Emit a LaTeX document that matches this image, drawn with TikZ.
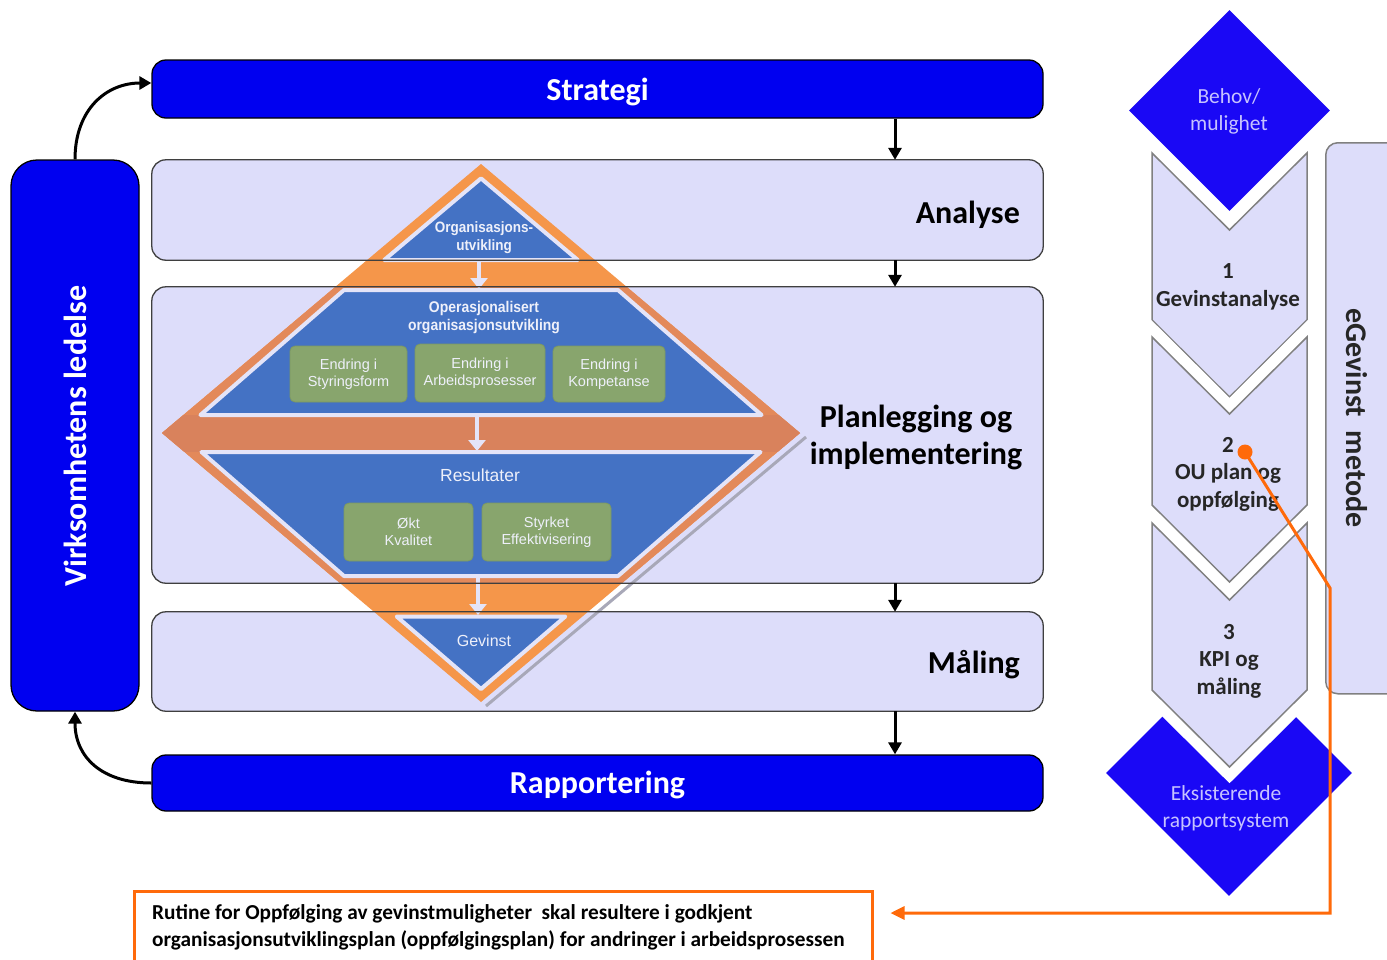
\documentclass[tikz,border=0pt]{standalone}
\usepackage{fontspec}
\setmainfont{Carlito}
\newfontfamily\arialf{Liberation Sans}
\newfontfamily\narrowf[FakeStretch=0.9]{Liberation Sans}
\usetikzlibrary{arrows.meta,shapes.geometric,calc}
\definecolor{bandfill}{HTML}{DDDDFA}
\definecolor{bandline}{HTML}{3F3F3F}
\definecolor{barblue}{HTML}{0000F0}
\definecolor{diablue}{HTML}{1A08F5}
\definecolor{pyrblue}{HTML}{4472C4}
\definecolor{orgA}{HTML}{F5964A}
\definecolor{orgB}{HTML}{E3895A}
\definecolor{orgC}{HTML}{D9825C}
\definecolor{lav}{HTML}{E4E4F8}
\definecolor{grn}{HTML}{88A56D}
\definecolor{grnline}{HTML}{7C9862}
\definecolor{hiorange}{HTML}{FF6A0A}
\definecolor{chevline}{HTML}{808080}
\definecolor{dialabel}{HTML}{C6C2FF}
\definecolor{pyrtext}{HTML}{EEF0FA}
\definecolor{darktext}{HTML}{262626}
\definecolor{shadowc}{HTML}{A8A8B8}
\tikzset{
  bandbg/.style={fill=bandfill, rounded corners=14pt, minimum width=891pt, inner sep=0pt},
  bandedge/.style={draw=bandline, line width=1.3pt, rounded corners=14pt},
  bluebar/.style={fill=barblue, draw=black, line width=1.3pt, rounded corners=14pt, minimum width=891pt, inner sep=0pt},
  bartext/.style={text=white, inner sep=0pt, font=\fontsize{32}{38}\selectfont\bfseries},
  biglabel/.style={font=\fontsize{32}{37}\selectfont\bfseries, text=black, inner sep=0pt},
  blackarrow/.style={line width=3pt, -{Triangle[length=12pt,width=13pt]}},
  pyr/.style={fill=pyrblue, draw=lav, line width=4pt, line join=round},
  whitearrow/.style={draw=lav, line width=4pt, -{Triangle[length=11pt,width=17pt]}},
  greenbox/.style={fill=grn, draw=grnline, line width=0.8pt, rounded corners=5pt, inner sep=0pt, text=pyrtext, align=center, font=\arialf\fontsize{14.5}{16.5}\selectfont},
  pyrlabel/.style={text=pyrtext, align=center, inner sep=0pt},
  chev/.style={fill=bandfill, draw=chevline, line width=1.5pt, preaction={draw=white, line width=23pt}},
  chevtext/.style={text=darktext, align=center, inner sep=0pt, font=\fontsize{23}{27.5}\selectfont\bfseries},
  bluediamond/.style={diamond, aspect=1, fill=diablue, inner sep=0pt},
  dialabelstyle/.style={text=dialabel, align=center, inner sep=0pt, font=\fontsize{21.5}{27}\selectfont},
  orangeline/.style={draw=hiorange, line width=3pt, -{Triangle[length=14pt,width=13pt]}},
}
\begin{document}
\begin{tikzpicture}[x=1pt,y=-1pt]
\useasboundingbox (0,0) rectangle (1387,959);
\clip (0,0) rectangle (1387,959);
\fill[white] (0,0) rectangle (1387,959);

% ---- bands (fill only) ----
\node[bandbg, minimum height=100pt] (analyse) at (597.5,210) {};
\node[bandbg, minimum height=296pt] (plan) at (597.5,435) {};
\node[bandbg, minimum height=99pt] (maaling) at (597.5,661.5) {};

% ---- blue bars ----
\node[bluebar, minimum height=58pt] (strategi) at (597.5,89) {};
\node[bartext, anchor=base] (strategitxt) at (597.5,100) {Strategi};
\node[bluebar, minimum height=56pt] (rapport) at (597.5,783) {};
\node[bartext, anchor=base] (rapporttxt) at (597.5,793) {Rapportering};
\node[fill=barblue, draw=black, line width=1.3pt, rounded corners=26pt, minimum width=128pt, minimum height=551pt, inner sep=0pt] (ledelse) at (75,435.5) {};
\node[rotate=90, text=white, font=\fontsize{32}{36}\selectfont\bfseries, inner sep=0pt] (ledelsetxt) at (75,436) {Virksomhetens ledelse};

% ---- pyramid / diamond ----
\draw[shadowc, line width=3pt] (806,437) -- (486,706);
\fill[orgA] (481,164) -- (800,433) -- (481,702) -- (162,433) -- cycle;
\begin{scope}
  \clip (481,164) -- (800,433) -- (481,702) -- (162,433) -- cycle;
  \fill[orgB] (100,287) rectangle (900,583);
  \fill[orgC] (100,415) rectangle (900,452);
\end{scope}
\filldraw[pyr] (481,178.4) -- (577.8,260) -- (384.2,260) -- cycle;
\filldraw[pyr] (344,290) -- (618,290) -- (761.6,415) -- (200.4,415) -- cycle;
\filldraw[pyr] (201.5,452) -- (760.5,452) -- (618,576) -- (344,576) -- cycle;
\filldraw[pyr] (396.7,616.5) -- (565.3,616.5) -- (481,689) -- cycle;

\coordinate (wa1) at (479,262);
\coordinate (wb1) at (479,289);
\coordinate (wa2) at (477,417);
\coordinate (wb2) at (477,451);
\coordinate (wa3) at (478,578);
\coordinate (wb3) at (478,615);
\draw[whitearrow] (wa1) -- (wb1);
\draw[whitearrow] (wa2) -- (wb2);
\draw[whitearrow] (wa3) -- (wb3);

\node[pyrlabel, font=\narrowf\bfseries\fontsize{15}{18}\selectfont] (orgtxt) at (484,238) {Organisasjons-\\utvikling};
\node[pyrlabel, font=\narrowf\bfseries\fontsize{15.5}{18}\selectfont] (opertxt) at (484,318) {Operasjonalisert\\organisasjonsutvikling};
\node[pyrlabel, font=\arialf\fontsize{17.5}{20}\selectfont] (restxt) at (480,475) {Resultater};
\node[pyrlabel, font=\arialf\fontsize{16}{19}\selectfont] (gevtxt) at (484,641) {Gevinst};

\node[greenbox, minimum width=117pt, minimum height=56pt] (g1) at (348.5,374) {Endring i\\Styringsform};
\node[greenbox, minimum width=130pt, minimum height=58pt] (g2) at (480,373) {Endring i\\Arbeidsprosesser};
\node[greenbox, minimum width=112pt, minimum height=56pt] (g3) at (609,374) {Endring i\\Kompetanse};
\node[greenbox, minimum width=129pt, minimum height=58pt] (g4) at (408.5,532) {Økt\\Kvalitet};
\node[greenbox, minimum width=129pt, minimum height=58pt] (g5) at (546.5,532) {Styrket\\Effektivisering};

% ---- band outlines on top ----
\draw[bandedge] (analyse.south west) rectangle (analyse.north east);
\draw[bandedge] (plan.south west) rectangle (plan.north east);
\draw[bandedge] (maaling.south west) rectangle (maaling.north east);

% ---- band labels ----
\node[biglabel, anchor=base east] (analysetxt) at (1020,223) {Analyse};
\node[biglabel, align=center] (plantxt) at (916,437) {Planlegging og\\implementering};
\node[biglabel, anchor=base east] (maalingtxt) at (1020,673) {Måling};

% ---- black arrows ----
\coordinate (ax) at (895,0);
\draw[blackarrow] (strategi.south -| ax) -- (analyse.north -| ax);
\draw[blackarrow] (analyse.south -| ax) -- (plan.north -| ax);
\draw[blackarrow] (plan.south -| ax) -- (maaling.north -| ax);
\draw[blackarrow] (maaling.south -| ax) -- (rapport.north -| ax);
\draw[blackarrow] (ledelse.north) .. controls +(0,-50) and +(-45,0) .. ($(strategi.west)+(0,-6)$);
\draw[blackarrow] (rapport.west) .. controls +(-50,0) and +(0,45) .. (ledelse.south);

% ---- right column ----
\node[bluediamond, minimum width=201pt, minimum height=201pt] (behov) at (1229.5,110.5) {};
\node[dialabelstyle] (behovtxt) at (1229,111) {Behov/\\mulighet};
\node[bluediamond, minimum width=246pt, minimum height=246pt] (eksist) at (1229,773) {};
\node[dialabelstyle] (eksisttxt) at (1226,808) {Eksisterende\\rapportsystem};

\path[chev] (1152,153) -- (1229.5,230) -- (1307,153) -- (1307,320) -- (1229.5,397) -- (1152,320) -- cycle;
\path[chev] (1152,337) -- (1229.5,414) -- (1307,337) -- (1307,505) -- (1229.5,582) -- (1152,505) -- cycle;
\path[chev] (1152,523) -- (1229.5,600) -- (1307,523) -- (1307,690) -- (1229.5,767) -- (1152,690) -- cycle;

\node[chevtext] (c1txt) at (1228,287) {1\\Gevinstanalyse};
\node[chevtext] (c2txt) at (1228,474) {2\\OU plan og\\oppfølging};
\node[chevtext] (c3txt) at (1229,661) {3\\KPI og\\måling};

\node[fill=bandfill, draw=chevline, line width=1.5pt, rounded corners=12pt, minimum width=90pt, minimum height=551pt, anchor=north west, inner sep=0pt] (egev) at (1325,142) {};
\node[rotate=-90, text=darktext, inner sep=0pt, font=\fontsize{30}{34}\selectfont\bfseries] (egevtxt) at (1357,418) {eGevinst\hspace{0.45em}metode};

% ---- note box and orange connector ----
\node[draw=hiorange, line width=2.5pt, minimum width=738pt, minimum height=95pt, anchor=north west, inner sep=0pt] (note) at (133,890) {};
\node[anchor=west, align=left, inner sep=0pt, font=\fontsize{21.3}{27}\selectfont\bfseries, text=black] (notetxt) at (152,927) {Rutine for Oppfølging av gevinstmuligheter\ \ skal resultere i godkjent\\organisasjonsutviklingsplan (oppfølgingsplan) for andringer i arbeidsprosessen};

\node[circle, fill=hiorange, minimum size=15pt, inner sep=0pt] (dot) at (1245,452) {};
\coordinate (bend1) at (1330,588);
\coordinate (bend2) at (1330,913);
\draw[orangeline, shorten >=17pt] (dot.center) -- (bend1) -- (bend2) -- (note.east |- bend2);
\end{tikzpicture}
\end{document}
